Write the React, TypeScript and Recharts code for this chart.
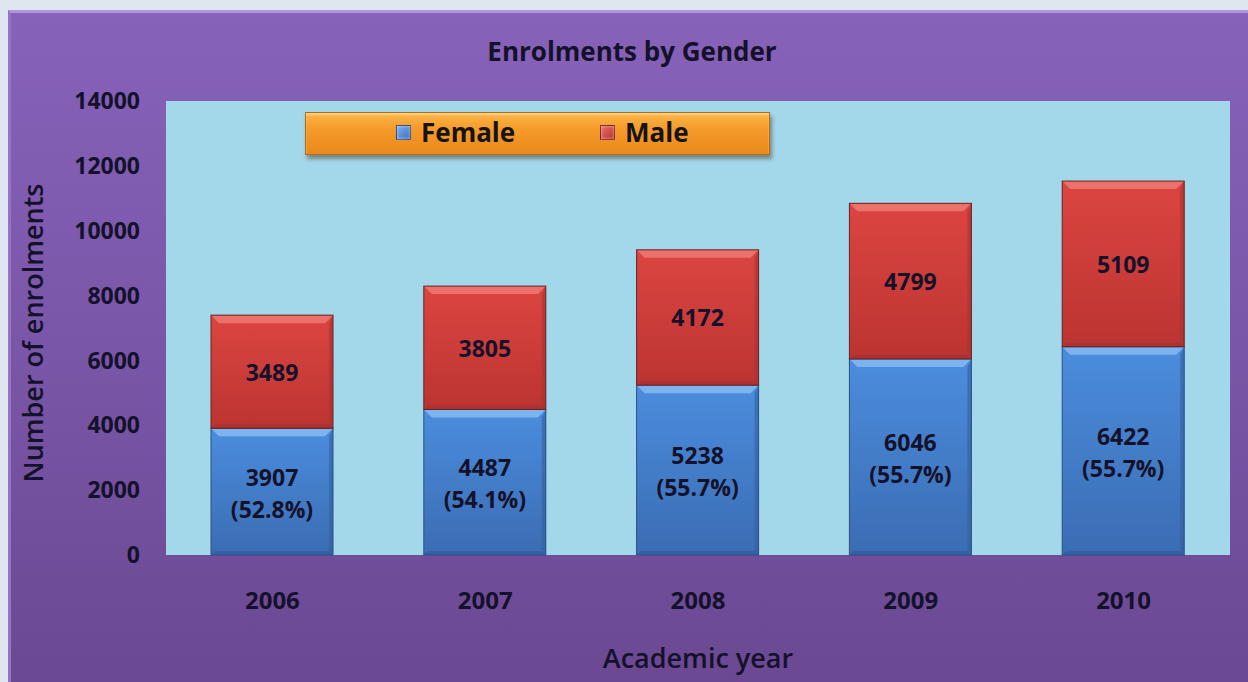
import React from 'react';
import { BarChart, Bar, XAxis, YAxis, CartesianGrid, LabelList, Label } from 'recharts';

const years = ['2006', '2007', '2008', '2009', '2010'];
const female = [3907, 4487, 5238, 6046, 6422];
const male = [3489, 3805, 4172, 4799, 5109];
const femaleShare = ['52.8%', '54.1%', '55.7%', '55.7%', '55.7%'];
const yTicks = [0, 2000, 4000, 6000, 8000, 10000, 12000, 14000];

const data = years.map((year, i) => ({ year, female: female[i], male: male[i], share: femaleShare[i] }));

const FONT = '"Open Sans", Lato, sans-serif';
const INK = '#14122a';

const palette: Record<string, { light: string; edge: string; dark: string; grad: string }> = {
    female: { light: '#7db4f0', edge: '#2c4f80', dark: '#335f9e', grad: 'url(#gFemale)' },
    male: { light: '#ec716b', edge: '#6a2222', dark: '#a83232', grad: 'url(#gMale)' },
};

const BevelBar = (props: any) => {
    const { x, y, width, height, kind } = props;
    if (!height || height <= 0) return null;
    const c = palette[kind];
    const b = Math.min(8, height / 4);
    return (
        <g>
            <rect x={x} y={y} width={width} height={height} fill={c.grad} />
            <polygon points={`${x},${y} ${x + width},${y} ${x + width - b},${y + b} ${x + b},${y + b}`} fill={c.light} />
            <polygon points={`${x + width},${y} ${x + width},${y + height} ${x + width - b / 2},${y + height - b / 2} ${x + width - b / 2},${y + b}`} fill={c.dark} opacity={0.6} />
            <polygon points={`${x},${y + height} ${x + width},${y + height} ${x + width - b / 2},${y + height - b / 2} ${x + b / 2},${y + height - b / 2}`} fill={c.dark} opacity={0.8} />
            <rect x={x} y={y} width={width} height={height} fill="none" stroke={c.edge} strokeWidth={1} />
        </g>
    );
};

const FemaleLabel = (props: any) => {
    const { x, y, width, height, index } = props;
    const cx = x + width / 2;
    const cy = y + height / 2;
    return (
        <g fontFamily={FONT} fontSize={23} fontWeight={700} fill={INK} textAnchor="middle">
            <text x={cx} y={cy - 6}>{female[index]}</text>
            <text x={cx} y={cy + 26}>({femaleShare[index]})</text>
        </g>
    );
};

const MaleLabel = (props: any) => {
    const { x, y, width, height, index } = props;
    return (
        <text x={x + width / 2} y={y + height / 2 + 9} fontFamily={FONT} fontSize={23} fontWeight={700} fill={INK} textAnchor="middle">
            {male[index]}
        </text>
    );
};

const LegendSwatch = ({ color, light }: { color: string; light: string }) => (
    <span style={{
        display: 'inline-block', width: 13, height: 13, marginRight: 10,
        background: `linear-gradient(135deg, ${light}, ${color})`, border: '1px solid rgba(0,0,0,0.35)',
        boxShadow: 'inset 0 0 3px rgba(255,255,255,0.6)',
    }} />
);

export default function App() {
    return (
        <div style={{ position: 'absolute', left: 0, top: 0, width: 1248, height: 682, background: '#dfe6ef', overflow: 'hidden', fontFamily: FONT }}>
            {/* purple panel */}
            <div style={{
                position: 'absolute', left: 8, top: 10, width: 1250, height: 680,
                background: 'linear-gradient(180deg, #8762b9 0%, #7a56a8 50%, #6b4891 100%)',
                borderTop: '3px solid #b094dc', borderLeft: '3px solid #9474c6',
                boxSizing: 'border-box',
            }} />
            <div style={{ position: 'absolute', left: 0, width: 1264, top: 33, textAlign: 'center', fontSize: 26, fontWeight: 700, color: INK }}>
                Enrolments by Gender
            </div>
            <BarChart
                width={1248}
                height={682}
                data={data}
                margin={{ top: 101, right: 18, left: 0, bottom: 0 }}
                style={{ position: 'absolute', left: 0, top: 0 }}
            >
                <defs>
                    <linearGradient id="gFemale" x1="0" y1="0" x2="0" y2="1">
                        <stop offset="0%" stopColor="#4b8ddd" />
                        <stop offset="100%" stopColor="#3b6cb3" />
                    </linearGradient>
                    <linearGradient id="gMale" x1="0" y1="0" x2="0" y2="1">
                        <stop offset="0%" stopColor="#dc4541" />
                        <stop offset="100%" stopColor="#bb3431" />
                    </linearGradient>
                </defs>
                <CartesianGrid horizontal={false} vertical={false} fill="#a2d8ea" stroke="#d6f3fa" strokeWidth={3} />
                <XAxis
                    dataKey="year"
                    height={127}
                    axisLine={false}
                    tickLine={false}
                    tickSize={0}
                    tickMargin={37}
                    tick={{ fontSize: 24, fontWeight: 700, fill: INK, fontFamily: FONT }}
                >
                    <Label value="Academic year" position="insideBottom" offset={14} style={{ fontSize: 27, fontWeight: 600, fill: INK, fontFamily: FONT }} />
                </XAxis>
                <YAxis
                    width={166}
                    domain={[0, 14000]}
                    ticks={yTicks}
                    interval={0}
                    axisLine={false}
                    tickLine={false}
                    tickSize={0}
                    tickMargin={26}
                    tick={{ fontSize: 23, fontWeight: 700, fill: INK, fontFamily: FONT }}
                >
                    <Label
                        content={() => (
                            <text x={43} y={333} transform="rotate(-90 43 333)" textAnchor="middle" fontSize={27} fontWeight={600} fill={INK} fontFamily={FONT}>
                                Number of enrolments
                            </text>
                        )}
                    />
                </YAxis>
                <Bar dataKey="female" stackId="g" barSize={122} isAnimationActive={false} shape={(p: any) => <BevelBar {...p} kind="female" />}>
                    <LabelList dataKey="female" content={FemaleLabel} />
                </Bar>
                <Bar dataKey="male" stackId="g" barSize={122} isAnimationActive={false} shape={(p: any) => <BevelBar {...p} kind="male" />}>
                    <LabelList dataKey="male" content={MaleLabel} />
                </Bar>
            </BarChart>
            {/* legend */}
            <div style={{
                position: 'absolute', left: 305, top: 112, width: 465, height: 43, boxSizing: 'border-box',
                background: 'linear-gradient(180deg, #fbb64a 0%, #f59a2a 40%, #e9891c 100%)',
                border: '1px solid #b86a12', boxShadow: '2px 4px 4px rgba(60,40,20,0.45), inset 0 2px 2px rgba(255,220,150,0.8)',
                fontSize: 26, fontWeight: 700, color: '#141414',
            }}>
                <span style={{ position: 'absolute', left: 90, top: 1, display: 'flex', alignItems: 'center' }}>
                    <LegendSwatch color="#3b6fc0" light="#7db0ef" />Female
                </span>
                <span style={{ position: 'absolute', left: 294, top: 1, display: 'flex', alignItems: 'center' }}>
                    <LegendSwatch color="#b83232" light="#ea6e6a" />Male
                </span>
            </div>
        </div>
    );
}
